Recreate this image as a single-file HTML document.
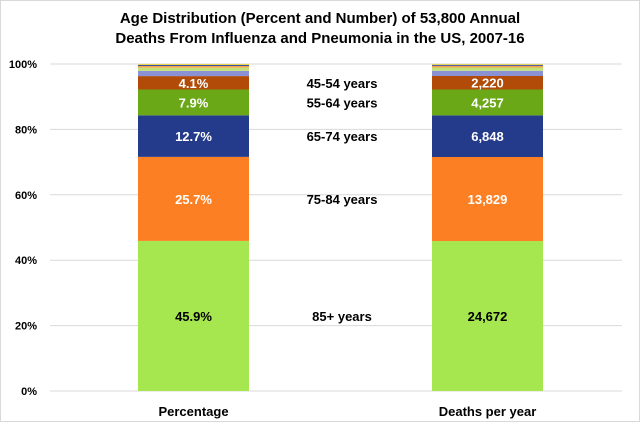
<!DOCTYPE html>
<html><head><meta charset="utf-8"><style>
body{margin:0;background:#fff;}
svg{display:block;font-family:"Liberation Sans",Arial,sans-serif;font-weight:bold;}
</style></head><body>
<svg id="c" width="640" height="422">
<rect x="0.5" y="0.5" width="639" height="421" fill="#fff" stroke="#d9d9d9"/>
<text x="320" y="23" text-anchor="middle" font-size="15">Age Distribution (Percent and Number) of 53,800 Annual</text>
<text x="320" y="43" text-anchor="middle" font-size="15">Deaths From Influenza and Pneumonia in the US, 2007-16</text>
<g id="grid"></g><g id="bars"></g><g id="labels"></g>
</svg>
<script>
const categories=["Percentage","Deaths per year"];
const ageGroups=["85+ years","75-84 years","65-74 years","55-64 years","45-54 years","35-44","25-34","15-24","5-14","0-4"];
const percentValues=[45.9,25.7,12.7,7.9,4.1,1.6,1.0,0.5,0.3,0.3];
const deathValues=[24672,13829,6848,4257,2220,861,538,269,161,145];
const percentLabels=["45.9%","25.7%","12.7%","7.9%","4.1%"];
const deathLabels=["24,672","13,829","6,848","4,257","2,220"];
const colors=["#a6e64f","#fd7f23","#243a8a","#6aa817","#b24a08","#8a92d4","#c2e07a","#f4a24b","#2f4fa3","#e8d04a"];
const yTicks=[0,20,40,60,80,100];
const NS="http://www.w3.org/2000/svg";
const y0=391,y100=64;
const y=v=>y0-(y0-y100)*v/100;
const barX=[138,432],barW=111;
function mk(t,a,p){const e=document.createElementNS(NS,t);for(const k in a)e.setAttribute(k,a[k]);p.appendChild(e);return e;}
const grid=document.getElementById('grid'),bars=document.getElementById('bars'),labs=document.getElementById('labels');
yTicks.forEach(t=>{
 const l=mk('line',{x1:50,x2:622,y1:y(t),y2:y(t),stroke:'#d9d9d9','stroke-width':1},grid);
 
 
 const tx=mk('text',{x:37,y:y(t)+4,'text-anchor':'end','font-size':11},grid);tx.textContent=t+'%';
 
 
});
[percentValues,deathValues].forEach((vals,bi)=>{
 const tot=vals.reduce((a,b)=>a+b,0);let cum=0;
 vals.forEach((v,i)=>{
  const p=v/tot*100;const top=y(cum+p),bot=y(cum);
  const r=mk('rect',{x:barX[bi],y:top,width:barW,height:bot-top,fill:colors[i]},bars);
  
  
  if(i<5){const t=mk('text',{x:barX[bi]+barW/2,y:(top+bot)/2+5,'text-anchor':'middle','font-size':13,fill:i==0?'#000':'#fff'},labs);
   t.textContent=bi?deathLabels[i]:percentLabels[i];
   
   
   const g=mk('text',{x:342,y:(top+bot)/2+5,'text-anchor':'middle','font-size':13},labs);
   if(bi==0){g.textContent=ageGroups[i];}
   
   }
  cum+=p;
 });
 const c=mk('text',{x:barX[bi]+barW/2,y:416,'text-anchor':'middle','font-size':13},labs);c.textContent=categories[bi];
 
 
});
</script>
</body></html>
